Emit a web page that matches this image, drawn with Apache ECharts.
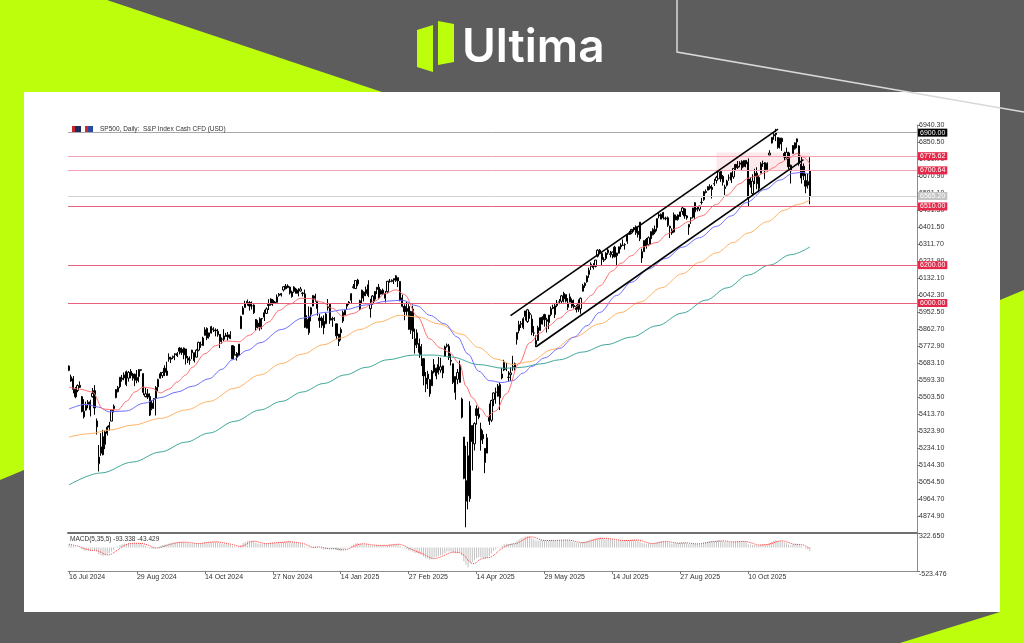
<!DOCTYPE html>
<html>
<head>
<meta charset="utf-8">
<title>SP500 Daily</title>
<script src="https://cdn.jsdelivr.net/npm/echarts@6.0.0/dist/echarts.min.js"></script>
<style>
html,body{margin:0;padding:0;background:#5d5d5d;overflow:hidden;}
#chart{width:1024px;height:643px;}
</style>
</head>
<body>
<div id="chart"></div>
<script>
// ---------------- data ----------------
const firstDate = '2024-07-16';
const skippedDates = ['2024-12-25', '2025-01-01', '2025-04-18'];

const opens = [
5644,5610,5600,5544,5538,5565,5505,5428,5434,5476,
5478,5505,5537,5377,5151,5206,5294,5253,5311,5353,
5376,5442,5500,5531,5558,5603,5604,5637,5603,5639,
5602,5624,5607,5612,5648,5627,5506,5520,5507,5442,
5490,5496,5557,5603,5616,5655,5641,5703,5709,5712,
5727,5733,5762,5756,5726,5757,5698,5698,5737,5737,
5714,5751,5778,5775,5829,5866,5823,5875,5859,5857,
5832,5834,5810,5826,5831,5819,5832,5775,5724,5734,
5722,5864,5940,5976,6008,6003,5985,5989,5913,5874,
5868,5918,5925,5945,5992,5992,6015,5998,6003,6040,
6042,6069,6089,6081,6084,6058,6061,6074,6068,6063,
6053,6048,5913,5843,5941,5984,6025,6007,5921,5920,
5903,5891,5982,5993,5910,5918,5890,5797,5859,5905,
5961,5983,5997,6014,6081,6076,6121,5969,6026,6057,
6050,6096,5970,5998,6020,6072,6083,6047,6049,6025,
6060,6115,6114,6121,6118,6134,6114,6027,5982,5971,
5981,5856,5968,5811,5782,5786,5726,5706,5603,5624,
5595,5563,5635,5655,5632,5646,5630,5718,5772,5772,
5696,5679,5527,5597,5581,5492,5292,4953,5193,4966,
5353,5256,5441,5412,5335,5305,5232,5207,5395,5381,
5490,5529,5508,5499,5625,5646,5656,5608,5621,5663,
5679,5807,5854,5888,5870,5929,5902,5944,5915,5841,
5781,5802,5855,5925,5939,5903,5897,5939,5978,5985,
5987,6005,6009,6050,6010,6000,6005,6013,5987,5981,
5999,5970,6062,6104,6112,6151,6193,6187,6193,6247,
6279,6261,6230,6235,6265,6256,6255,6295,6250,6263,
6306,6304,6307,6326,6368,6370,6398,6403,6379,6427,
6271,6271,6336,6308,6377,6360,6389,6398,6460,6443,
6478,6445,6450,6406,6386,6375,6458,6441,6457,6483,
6497,6460,6401,6450,6454,6530,6499,6496,6531,6546,
6589,6596,6616,6611,6629,6647,6656,6695,6669,6613,
6622,6661,6649,6666,6732,6722,6733,6748,6721,6753,
6744,6626,6578,6686,6686,6605,6686,6737,6741,6705,
6782,6845,6883,6900,6874,6871,6869,6790,6766,6793,
6698,6790,6815,6867,6830,6660,6722,6647,6623,6699
];
const highs = [
5670,5622,5614,5556,5570,5586,5509,5492,5479,5487,
5489,5551,5566,5390,5250,5313,5330,5326,5351,5372,
5436,5464,5546,5562,5608,5620,5633,5643,5641,5651,
5631,5627,5646,5651,5650,5628,5552,5546,5523,5485,
5497,5561,5600,5636,5637,5671,5690,5734,5716,5722,
5735,5741,5767,5765,5765,5758,5720,5718,5753,5739,
5756,5796,5796,5822,5872,5871,5843,5879,5872,5866,
5863,5835,5818,5862,5842,5847,5851,5775,5772,5741,
5783,5933,5983,6012,6018,6010,6008,5993,5915,5909,
5924,5920,5964,5977,6020,6025,6021,6010,6045,6053,
6052,6088,6100,6099,6088,6065,6089,6080,6078,6085,
6058,6071,5935,5982,5979,6041,6049,6007,5941,5929,
5935,5949,6021,6000,5927,5925,5890,5836,5871,5960,
5964,6000,6010,6052,6100,6119,6128,6017,6070,6062,
6087,6120,6022,6042,6062,6084,6101,6073,6076,6063,
6116,6127,6125,6129,6147,6134,6115,6044,5993,6009,
5994,5959,5986,5865,5861,5812,5783,5709,5636,5642,
5598,5646,5704,5659,5715,5711,5670,5775,5786,5784,
5732,5680,5612,5651,5696,5500,5292,5246,5267,5481,
5353,5370,5459,5450,5368,5328,5232,5309,5469,5489,
5528,5553,5572,5581,5658,5700,5683,5640,5660,5721,
5685,5846,5906,5905,5925,5958,5969,5954,5938,5878,
5829,5880,5924,5930,5943,5922,5937,5981,5991,5999,
6016,6021,6043,6059,6045,6026,6050,6024,6018,5990,
6019,6029,6101,6109,6146,6187,6215,6210,6227,6284,
6285,6264,6242,6269,6291,6275,6272,6302,6265,6298,
6316,6336,6316,6360,6381,6390,6401,6410,6401,6427,
6287,6330,6344,6352,6379,6395,6409,6446,6481,6473,
6481,6456,6457,6408,6394,6478,6467,6468,6483,6508,
6500,6465,6416,6453,6502,6532,6508,6513,6555,6592,
6600,6616,6627,6624,6656,6672,6694,6698,6676,6625,
6651,6679,6689,6712,6734,6750,6749,6754,6753,6755,
6764,6664,6680,6709,6717,6674,6744,6752,6744,6743,
6807,6876,6899,6920,6875,6873,6874,6799,6821,6799,
6731,6834,6849,6869,6833,6775,6737,6683,6683,6770
];
const lows = [
5640,5584,5523,5497,5529,5551,5422,5390,5431,5444,
5401,5500,5410,5305,5110,5193,5195,5228,5300,5326,
5376,5422,5497,5528,5550,5585,5592,5561,5585,5602,
5590,5561,5576,5581,5640,5513,5501,5493,5403,5434,
5441,5406,5535,5601,5604,5614,5615,5690,5683,5704,
5698,5715,5728,5726,5703,5675,5683,5674,5703,5686,
5713,5745,5763,5775,5829,5804,5812,5840,5847,5824,
5822,5762,5785,5799,5823,5802,5809,5703,5723,5696,
5722,5864,5940,5976,5986,5960,5966,5942,5853,5866,
5854,5861,5905,5944,5963,5986,5985,5995,6003,6033,
6034,6061,6073,6079,6045,6028,6054,6051,6035,6060,
6035,5868,5866,5832,5903,5983,6007,5933,5869,5869,
5835,5888,5960,5890,5874,5905,5808,5773,5802,5895,
5936,5965,5990,6000,6076,6075,6089,5962,5995,6008,
6036,6031,5923,5990,6007,6047,6020,6045,6043,6003,
6051,6107,6110,6100,6112,6084,6009,5977,5909,5932,
5858,5837,5810,5733,5762,5711,5667,5565,5529,5546,
5505,5563,5628,5597,5622,5632,5603,5718,5764,5699,
5670,5572,5489,5571,5578,5390,5069,4815,4910,4950,
5115,5221,5358,5386,5220,5255,5101,5207,5356,5371,
5455,5468,5505,5434,5597,5640,5640,5584,5587,5642,
5643,5780,5840,5868,5862,5907,5895,5917,5830,5825,
5767,5800,5854,5886,5875,5844,5862,5930,5967,5921,
5978,5994,6000,6003,6003,5963,6004,5974,5971,5950,
5953,5943,6062,6080,6107,6133,6174,6177,6188,6241,
6262,6201,6217,6227,6255,6241,6236,6241,6201,6262,
6283,6303,6282,6313,6360,6364,6376,6360,6346,6327,
6212,6271,6287,6300,6308,6358,6364,6379,6447,6442,
6441,6437,6402,6343,6360,6371,6438,6435,6454,6466,
6445,6440,6360,6418,6447,6445,6484,6485,6520,6540,
6579,6595,6598,6552,6618,6631,6655,6640,6620,6570,
6615,6645,6634,6656,6703,6708,6717,6700,6717,6717,
6512,6610,6570,6628,6601,6586,6686,6719,6654,6693,
6781,6843,6862,6855,6815,6816,6804,6754,6759,6708,
6631,6790,6810,6818,6725,6631,6650,6580,6604,6522
];
const closes = [
5667,5588,5544,5505,5564,5555,5427,5399,5459,5463,
5436,5522,5446,5346,5186,5240,5199,5319,5344,5344,
5434,5455,5543,5554,5608,5597,5620,5570,5634,5616,
5625,5592,5591,5648,5645,5528,5520,5503,5408,5471,
5496,5554,5596,5626,5633,5634,5618,5714,5703,5718,
5732,5722,5745,5738,5762,5709,5709,5699,5751,5696,
5751,5792,5780,5815,5859,5815,5842,5841,5864,5853,
5851,5797,5809,5808,5823,5832,5813,5705,5728,5712,
5783,5929,5973,5996,6001,5984,5985,5949,5871,5894,
5917,5917,5949,5969,5987,6021,5998,6005,6032,6047,
6050,6086,6075,6090,6053,6034,6084,6051,6051,6074,
6050,5872,5867,5930,5975,6040,6037,5971,5907,5882,
5869,5942,5975,5909,5918,5915,5827,5836,5843,5950,
5937,5997,6005,6049,6086,6119,6101,6012,6068,6039,
6071,6040,5994,6037,6061,6083,6026,6066,6068,6051,
6115,6114,6120,6129,6144,6117,6013,5983,5955,5956,
5861,5955,5850,5778,5842,5739,5770,5615,5572,5599,
5521,5639,5675,5615,5675,5663,5668,5768,5777,5712,
5693,5581,5612,5633,5671,5397,5074,5062,4982,5457,
5268,5363,5406,5397,5276,5283,5158,5288,5376,5485,
5525,5529,5561,5569,5604,5687,5650,5607,5631,5664,
5660,5844,5886,5892,5917,5958,5964,5940,5845,5842,
5802,5870,5922,5889,5912,5912,5936,5970,5971,5939,
6000,6006,6038,6022,6045,5977,6033,5983,5981,5965,
5967,6025,6092,6092,6141,6173,6205,6198,6227,6279,
6270,6230,6226,6263,6280,6260,6269,6244,6264,6297,
6297,6306,6309,6359,6363,6389,6390,6371,6362,6339,
6238,6330,6299,6345,6340,6389,6374,6446,6466,6469,
6450,6449,6411,6396,6370,6467,6439,6465,6481,6502,
6460,6450,6416,6448,6502,6482,6495,6512,6532,6588,
6584,6615,6606,6600,6631,6664,6693,6656,6638,6605,
6644,6661,6688,6711,6715,6716,6740,6714,6753,6735,
6553,6655,6644,6671,6630,6664,6735,6736,6699,6738,
6792,6875,6891,6890,6822,6840,6852,6771,6796,6720,
6728,6832,6846,6851,6737,6734,6672,6617,6642,6565
];

// moving averages: [bar index, value]
const maRed = [[0,5556],[5,5545],[11,5530],[16,5440],[23,5435],[27,5480],[31,5530],[35,5556],[39,5550],[43,5525],[47,5545],[51,5583],[55,5620],[58,5660],[64,5732],[69,5774],[74,5800],[80,5795],[85,5830],[90,5870],[94,5900],[99,5961],[104,5994],[109,6025],[114,6023],[119,6005],[124,5972],[129,5930],[134,5945],[139,5975],[144,6010],[149,6050],[154,6070],[158,6045],[164,5930],[170,5810],[175,5762],[179,5740],[184,5680],[187,5560],[190,5500],[194,5440],[197,5400],[201,5430],[206,5520],[212,5680],[217,5790],[222,5842],[226,5880],[231,5920],[236,5960],[242,6000],[246,6040],[250,6090],[256,6170],[260,6210],[265,6250],[270,6295],[277,6320],[282,6365],[286,6395],[292,6430],[298,6460],[305,6520],[310,6570],[316,6630],[320,6660],[324,6670],[328,6690],[332,6715],[335,6740],[339,6765],[343,6790],[346,6770],[349,6735]];
const maBlue = [[0,5440],[8,5465],[14,5450],[19,5425],[27,5430],[35,5470],[43,5500],[51,5530],[58,5560],[66,5600],[72,5650],[77,5700],[84,5750],[90,5790],[100,5860],[110,5920],[120,5950],[130,5965],[140,5990],[150,6010],[157,6015],[164,5985],[170,5935],[177,5890],[183,5820],[188,5730],[193,5640],[198,5590],[204,5580],[209,5590],[214,5630],[218,5665],[224,5710],[231,5760],[238,5820],[244,5880],[250,5950],[258,6040],[265,6110],[273,6180],[281,6235],[289,6295],[297,6345],[305,6405],[312,6460],[319,6530],[328,6600],[335,6650],[341,6685],[345,6690],[349,6680]];
const maOrange = [[0,5292],[10,5310],[19,5329],[30,5355],[43,5390],[55,5435],[66,5480],[78,5550],[90,5620],[100,5680],[110,5730],[120,5780],[128,5815],[137,5860],[146,5900],[156,5935],[165,5925],[174,5890],[185,5835],[193,5765],[201,5705],[209,5675],[217,5690],[228,5755],[238,5820],[250,5890],[260,5950],[269,6005],[279,6080],[289,6155],[297,6215],[305,6265],[313,6320],[320,6370],[329,6430],[337,6490],[343,6520],[349,6544]];
const maTeal = [[0,5039],[15,5102],[30,5160],[43,5213],[55,5265],[66,5313],[78,5375],[90,5435],[100,5480],[110,5530],[120,5575],[130,5620],[140,5660],[150,5700],[162,5725],[172,5725],[180,5715],[193,5675],[205,5655],[213,5660],[222,5678],[231,5700],[242,5741],[253,5780],[265,5820],[277,5880],[289,5947],[300,6015],[310,6080],[320,6148],[330,6200],[340,6255],[349,6296]];

// horizontal levels and drawn objects
const levelValues = [6900.00, 6775.62, 6700.64, 6510.00, 6200.00, 6000.00];
const levelKinds  = ['black', 'pink', 'pink', 'red', 'red', 'red'];
const bidPrice = 6565.20;
const channelUpper = [[208, 5933], [334, 6919]];
const channelLower = [[220, 5769], [346, 6757]];
const zoneBox = [[305, 6795], [349, 6700.64]];

// axes
const yTickMin = 4785.1, yTickStep = 89.8, yTickMax = 6940.3;
const macdMin = -523.476, macdMax = 322.65;
const macdPeriods = [5, 35, 5];
const macdSeed = [5625, 5560];
const dateTickEvery = 32;
const slotCount = 400;
const titleText = 'SP500, Daily:  S&P Index Cash CFD (USD)';
const macdText = 'MACD(5,35,5) -93.338 -43.429';

// ---------------- build ----------------
const monthNames = ['Jan','Feb','Mar','Apr','May','Jun','Jul','Aug','Sep','Oct','Nov','Dec'];
function buildDates(n) {
  const out = [];
  const d = new Date(firstDate + 'T00:00:00Z');
  while (out.length < n) {
    const wd = d.getUTCDay();
    const iso = d.toISOString().slice(0, 10);
    if (wd !== 0 && wd !== 6 && skippedDates.indexOf(iso) < 0) {
      out.push(d.getUTCDate() + ' ' + monthNames[d.getUTCMonth()] + ' ' + d.getUTCFullYear());
    }
    d.setUTCDate(d.getUTCDate() + 1);
  }
  return out;
}
const n = closes.length;
const dates = buildDates(n);
const cats = dates.slice();
for (let i = n; i < slotCount; i++) cats.push('pad' + i);

const candles = opens.map((o, i) => [o, closes[i], lows[i], highs[i]]);

// MACD(5,35,5) indicator of the closes (main = EMA fast - EMA slow, signal = SMA of main)
let eF = macdSeed[0], eS = macdSeed[1];
const kF = 2 / (macdPeriods[0] + 1), kS = 2 / (macdPeriods[1] + 1);
const macdMain = closes.map(c => { eF += (c - eF) * kF; eS += (c - eS) * kS; return eF - eS; });
const macdSignal = macdMain.map((v, i) => {
  const s = macdMain.slice(Math.max(0, i - macdPeriods[2] + 1), i + 1);
  return s.reduce((a, b) => a + b, 0) / s.length;
});

const tickFn = (i) => i % dateTickEvery === 0 && i < n;
const FONT = '"Liberation Sans", Arial, sans-serif';
const kindStyle = {
  black: { line: '#a8a8a8', bg: '#000000' },
  pink:  { line: '#f2a2b2', bg: '#e5284a' },
  red:   { line: '#e8607a', bg: '#e5284a' }
};

const markLines = levelValues.map((v, i) => ({
  yAxis: v,
  lineStyle: { color: kindStyle[levelKinds[i]].line, width: 1, type: 'solid' },
  label: { show: true, position: 'end', distance: 1, formatter: () => v.toFixed(2),
           backgroundColor: kindStyle[levelKinds[i]].bg, color: '#fff', fontSize: 7,
           fontFamily: FONT, padding: [1, 2, 0, 2] }
}));
markLines.push({
  yAxis: bidPrice,
  lineStyle: { color: '#d2d2d2', width: 1, type: 'solid' },
  label: { show: true, position: 'end', distance: 1, formatter: () => bidPrice.toFixed(2),
           backgroundColor: '#c4c4c4', color: '#fff', fontSize: 7, fontFamily: FONT, padding: [1, 2, 0, 2] }
});
[channelUpper, channelLower].forEach(seg => {
  markLines.push([
    { coord: seg[0], lineStyle: { color: '#000', width: 1.6, type: 'solid' }, label: { show: false } },
    { coord: seg[1] }
  ]);
});

const maSeries = (data, color) => ({
  type: 'line', xAxisIndex: 0, yAxisIndex: 0, data: data, showSymbol: false,
  smooth: 0.35, smoothMonotone: 'x', silent: true, z: 4,
  lineStyle: { color: color, width: 1 }
});

const lime = '#bdfe0c';
const option = {
  animation: false,
  backgroundColor: '#5d5d5d',
  graphic: { elements: [
    { type: 'polygon', z: -5, shape: { points: [[0,0],[107,0],[382,92],[24,92],[24,470],[0,480]] }, style: { fill: lime } },
    { type: 'polygon', z: -5, shape: { points: [[1000,300],[1024,290],[1024,643],[900,643],[1000,612]] }, style: { fill: lime } },
    { type: 'rect', z: -4, shape: { x: 24, y: 92, width: 976, height: 520 }, style: { fill: '#ffffff' } },
    { type: 'polyline', z: -4, shape: { points: [[677,0],[677,52],[1024,112]] }, style: { stroke: '#d8d8d8', lineWidth: 1.5, fill: null } },
    { type: 'polygon', z: 5, shape: { points: [[417,30],[433,25],[433,72],[417,67]] }, style: { fill: lime } },
    { type: 'polygon', z: 5, shape: { points: [[438,21],[454,24],[454,62],[438,65]] }, style: { fill: lime } },
    { type: 'text', z: 5, x: 462, y: 48, style: { text: 'Ultima', fill: '#ffffff', font: '600 46px Inter, "Open Sans", sans-serif', verticalAlign: 'middle' } },
    { type: 'rect', z: 10, shape: { x: 72, y: 126, width: 9, height: 6 }, style: { fill: '#1d2c5c' } },
    { type: 'rect', z: 10, shape: { x: 72, y: 126, width: 3, height: 6 }, style: { fill: '#c8262c' } },
    { type: 'rect', z: 10, shape: { x: 85, y: 126, width: 8, height: 6 }, style: { fill: '#2b4aa0' } },
    { type: 'rect', z: 10, shape: { x: 85, y: 126, width: 3, height: 6 }, style: { fill: '#d02a2a' } },
    { type: 'text', z: 10, x: 100, y: 129, style: { text: titleText, fill: '#333', font: '6.5px ' + FONT, verticalAlign: 'middle' } },
    { type: 'text', z: 10, x: 70, y: 539, style: { text: macdText, fill: '#333', font: '6.5px ' + FONT, verticalAlign: 'middle' } }
  ] },
  grid: [
    { left: 68, right: 107, top: 125, height: 408 },
    { left: 68, right: 107, top: 533, height: 38 }
  ],
  xAxis: [
    { type: 'category', gridIndex: 0, data: cats, boundaryGap: true,
      axisLine: { show: true, onZero: false, lineStyle: { color: '#707070', width: 2 } },
      axisTick: { show: false }, axisLabel: { show: false }, splitLine: { show: false } },
    { type: 'category', gridIndex: 1, data: cats, boundaryGap: true,
      axisLine: { show: true, onZero: false, lineStyle: { color: '#8c8c8c', width: 1 } },
      axisTick: { show: true, interval: tickFn, alignWithLabel: true, length: 3, lineStyle: { color: '#777' } },
      axisLabel: { show: true, interval: tickFn, align: 'left', margin: 3, fontSize: 7, color: '#333', fontFamily: FONT },
      splitLine: { show: false } }
  ],
  yAxis: [
    { type: 'value', gridIndex: 0, position: 'right', min: yTickMin, max: yTickMax, interval: yTickStep,
      axisLine: { show: true, lineStyle: { color: '#8c8c8c' } },
      axisTick: { show: true, length: 3, lineStyle: { color: '#777' } },
      axisLabel: { fontSize: 7, color: '#333', margin: 2, fontFamily: FONT, showMinLabel: false,
                   formatter: v => v.toFixed(2) },
      splitLine: { show: false } },
    { type: 'value', gridIndex: 1, position: 'right', min: macdMin, max: macdMax, interval: macdMax - macdMin,
      axisLine: { show: true, lineStyle: { color: '#8c8c8c' } },
      axisTick: { show: true, length: 3, lineStyle: { color: '#777' } },
      axisLabel: { fontSize: 7, color: '#333', margin: 2, fontFamily: FONT, verticalAlign: 'top',
                   showMinLabel: true, showMaxLabel: true, formatter: v => v.toFixed(3) },
      splitLine: { show: false } }
  ],
  series: [
    { type: 'candlestick', xAxisIndex: 0, yAxisIndex: 0, data: candles, barWidth: '80%', silent: true, z: 3,
      itemStyle: { color: '#ffffff', color0: '#000000', borderColor: '#000000', borderColor0: '#000000', borderWidth: 1 },
      markLine: { symbol: ['none', 'none'], silent: true, animation: false, data: markLines },
      markArea: { silent: true, itemStyle: { color: 'rgba(250,190,200,0.35)' },
                  data: [[{ coord: zoneBox[0] }, { coord: zoneBox[1] }]] } },
    maSeries(maTeal, '#3fa89b'),
    maSeries(maOrange, '#ffb366'),
    maSeries(maBlue, '#6e6eff'),
    maSeries(maRed, '#ff6f6f'),
    { type: 'bar', xAxisIndex: 1, yAxisIndex: 1, data: macdMain, barWidth: 1, silent: true,
      itemStyle: { color: '#c2c2c2' } },
    { type: 'line', xAxisIndex: 1, yAxisIndex: 1, data: macdSignal, showSymbol: false, silent: true,
      lineStyle: { color: '#ff3030', width: 1, type: 'dotted' } }
  ]
};

const chart = echarts.init(document.getElementById('chart'), null, { renderer: 'canvas' });
chart.setOption(option);
</script>
</body>
</html>
